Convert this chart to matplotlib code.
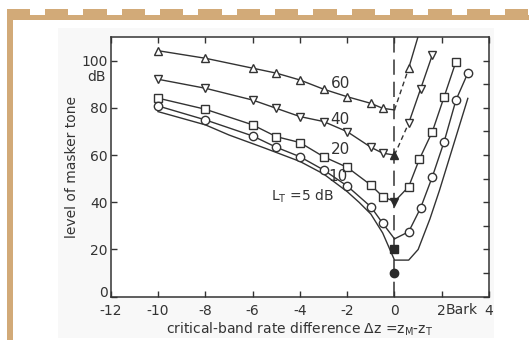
import matplotlib
matplotlib.use("Agg")
import matplotlib.pyplot as plt
import matplotlib.transforms as mtransforms
from matplotlib.patches import Rectangle

plt.rcParams['font.family'] = ['DejaVu Sans']
plt.rcParams['mathtext.fontset'] = 'dejavusans'
plt.rcParams['lines.scale_dashes'] = False

# ---- data: masker level (dB) vs critical-band rate difference (Bark) ----
x_left = [-10, -8, -6, -5, -4, -3, -2, -1, -0.5]

lt60_left = [104.2, 101.0, 96.8, 94.7, 91.8, 87.9, 84.7, 81.9, 79.8]
lt60_tip = 79.1
lt60_right_x = [0.6, 1.05]
lt60_right_y = [96.8, 112.0]

lt40_left = [92.1, 88.3, 83.3, 79.8, 76.3, 74.2, 69.9, 63.3, 60.8]
lt40_tip = 60.0
lt40_right_x = [0.6, 1.1, 1.6]
lt40_right_y = [73.5, 87.9, 102.4]

lt20_left = [84.1, 79.4, 72.8, 67.8, 65.3, 59.3, 54.8, 47.3, 42.4]
lt20_tip = 40.3
lt20_right_x = [0.6, 1.05, 1.6, 2.1, 2.6]
lt20_right_y = [46.6, 58.2, 69.9, 84.7, 99.6]

lt10_left = [80.8, 74.9, 68.1, 63.3, 59.3, 53.7, 46.9, 38.1, 31.1]
lt10_tip = 24.5
lt10_right_x = [0.6, 1.1, 1.6, 2.1, 2.6, 3.1]
lt10_right_y = [27.5, 37.5, 50.8, 65.7, 83.3, 94.7]

lt5_x = [-10, -8, -7, -5.5, -4, -3, -2, -1.5, -1, -0.5, 0, 0.6, 1.0, 1.5, 1.9, 3.1]
lt5_y = [78.4, 72.8, 68.5, 63.0, 57.3, 52.0, 44.5, 40.0, 35.0, 27.0, 15.5, 15.5,
         20.0, 33.0, 45.0, 84.0]

# levels of the test tone, marked on the Δz = 0 axis
tone_markers = ['^', 'v', 's', 'o']
tone_levels = [60.0, 40.3, 20.1, 9.9]

curve_labels = ['60', '40', '20', '10']
curve_label_pos = [(-2.3, 90.4), (-2.3, 75.2), (-2.3, 62.2), (-2.4, 50.8)]

x_ticks = [-12, -10, -8, -6, -4, -2, 0, 2, 4]
x_ticklabels = ['-12', '-10', '-8', '-6', '-4', '-2', '0', '2', '4']
y_ticks = [0, 20, 40, 60, 80, 100]
y_ticklabels = ['0', '20', '40', '60', '80', '100']

ink = '#333333'
frame_col = '#d2aa78'
fs = 10

W, H = 529, 340
fig = plt.figure(figsize=(W / 100, H / 100), dpi=100)
fig.patch.set_facecolor('white')

# decorative page frame
def px_rect(x0, y0, x1, y1, z, **kw):
    r = Rectangle((x0 / W, 1 - y1 / H), (x1 - x0) / W, (y1 - y0) / H,
                  transform=fig.transFigure, figure=fig, zorder=z, **kw)
    fig.patches.append(r)

px_rect(58, 28, 494, 338, -3, facecolor='#f8f8f8', edgecolor='none')
px_rect(7, 15, W, 20, -2, facecolor=frame_col, edgecolor='none')
px_rect(7, 15, 13, H, -2, facecolor=frame_col, edgecolor='none')
x = 6.7
while x < W:
    px_rect(x, 9, min(x + 23.3, W), 15.5, -2, facecolor=frame_col, edgecolor='none')
    x += 38.33

ax = fig.add_axes([110.7 / W, 1 - 296.7 / H, 378.4 / W, 259.7 / H])
ax.set_zorder(1)
ax.set_facecolor('white')
ax.set_xlim(-12, 4)
ax.set_ylim(0, 110)

lw = 1.0
marker_style = dict(markersize=6, markerfacecolor='white', markeredgecolor=ink,
                    markeredgewidth=1.0, linestyle='none', zorder=4)

# vertical reference line at Δz = 0
ax.plot([0, 0], [0, 110], color=ink, linewidth=1.1, dashes=(11, 5), zorder=2)

# left branches (with markers) ending on Δz = 0
for vals, tip, m in [(lt60_left, lt60_tip, '^'), (lt40_left, lt40_tip, 'v'),
                     (lt20_left, lt20_tip, 's'), (lt10_left, lt10_tip, 'o')]:
    ax.plot(x_left + [0], vals + [tip], color=ink, linewidth=lw, zorder=3)
    ax.plot(x_left, vals, marker=m, **marker_style)

# right branches
for rx, ry, tip, m, dashed, n_mark in [
        (lt60_right_x, lt60_right_y, lt60_tip, '^', True, 1),
        (lt40_right_x, lt40_right_y, lt40_tip, 'v', True, 3),
        (lt20_right_x, lt20_right_y, lt20_tip, 's', False, 5),
        (lt10_right_x, lt10_right_y, lt10_tip, 'o', False, 6)]:
    if dashed:
        ax.plot([0, rx[0]], [tip, ry[0]], color=ink, linewidth=lw, dashes=(3.5, 2.5), zorder=3)
    else:
        ax.plot([0, rx[0]], [tip, ry[0]], color=ink, linewidth=lw, zorder=3)
    ax.plot(rx, ry, color=ink, linewidth=lw, zorder=3)
    ax.plot(rx[:n_mark], ry[:n_mark], marker=m, **marker_style)

# 5 dB curve without markers
ax.plot(lt5_x, lt5_y, color=ink, linewidth=lw, zorder=3)

# filled symbols at Δz = 0
for m, lv in zip(tone_markers, tone_levels):
    ax.plot([0], [lv], marker=m, markersize=6, color='#2a2a2a', linestyle='none', zorder=5)

for lab, (tx, ty) in zip(curve_labels, curve_label_pos):
    ax.text(tx, ty, lab, fontsize=11, color=ink, ha='center', va='center', zorder=6)
ax.text(-3.9, 42.4, r'L$_\mathrm{T}$ =5 dB', fontsize=fs, color=ink,
        ha='center', va='center', zorder=6)

# axes styling
for s in ax.spines.values():
    s.set_color(ink)
    s.set_linewidth(1.1)
ax.set_xticks(x_ticks)
ax.set_xticklabels(x_ticklabels)
ax.set_yticks(y_ticks)
ax.set_yticklabels(y_ticklabels)
ax.set_yticks(range(10, 110, 20), minor=True)
ax.tick_params(axis='both', direction='in', length=4, width=1, color=ink,
               labelcolor=ink, labelsize=fs, top=True, right=True, pad=2)
ax.tick_params(axis='y', which='minor', direction='in', length=4, width=1, color=ink,
               left=False, right=True)
ax.tick_params(axis='x', pad=5)

# lift the "0" label on the level axis clear of the "-12" below it
zero_lbl = ax.get_yticklabels()[0]
zero_lbl.set_transform(zero_lbl.get_transform() +
                       mtransforms.ScaledTranslation(0, 4 / 72, fig.dpi_scale_trans))

ax.text(2.85, -0.026, 'Bark', transform=ax.get_xaxis_transform(), fontsize=fs,
        color=ink, ha='center', va='top')
ax.text(-0.012, 93, 'dB', transform=ax.get_yaxis_transform(), fontsize=fs,
        color=ink, ha='right', va='center')

ax.set_xlabel(r'critical-band rate difference $\Delta$z =z$_\mathrm{M}$-z$_\mathrm{T}$',
              fontsize=fs, color=ink, labelpad=2)
ax.set_ylabel('level of masker tone', fontsize=fs, color=ink, labelpad=2)

fig.savefig('out.png', dpi=100)
